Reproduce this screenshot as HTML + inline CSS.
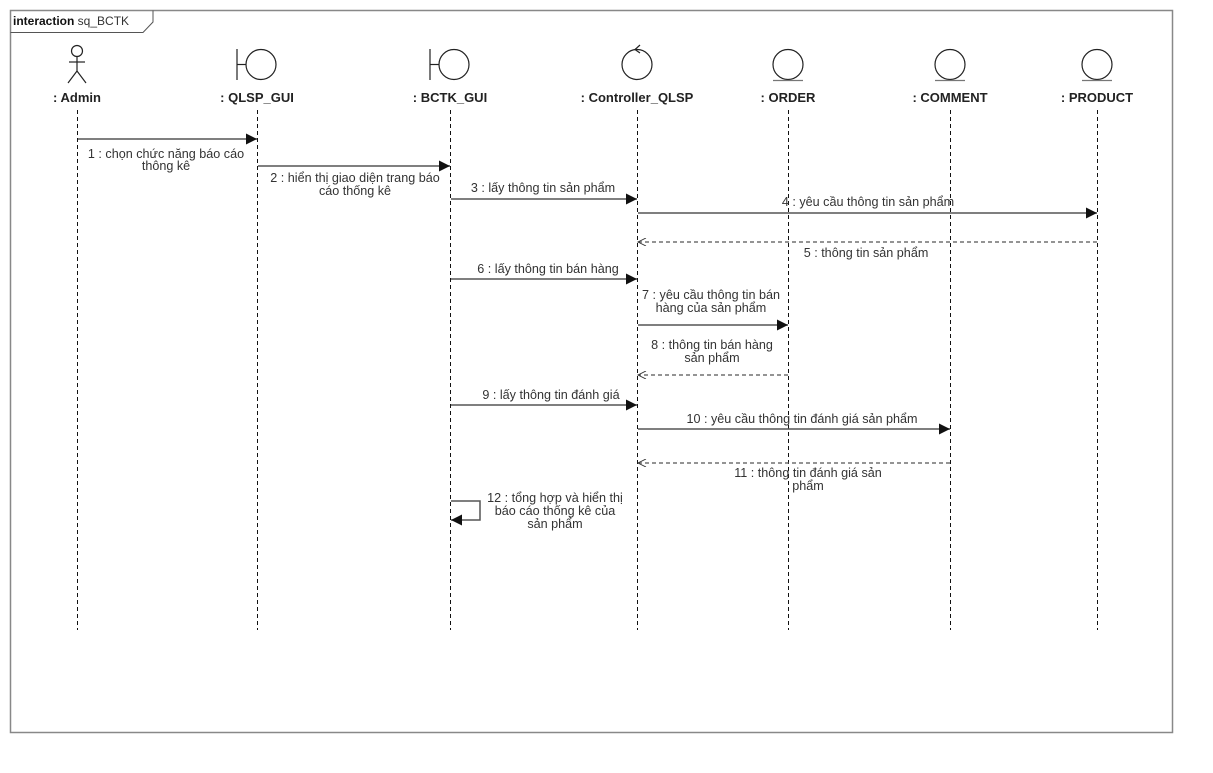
<!DOCTYPE html>
<html><head><meta charset="utf-8"><style>
html,body{margin:0;padding:0;background:#fff;}
svg{display:block;}
text{font-family:"Liberation Sans",sans-serif;font-size:12.6px;fill:#333;}
.h{font-size:13px;font-weight:bold;fill:#222;}
</style></head><body>
<svg width="1213" height="773" viewBox="0 0 1213 773" xmlns="http://www.w3.org/2000/svg">
<defs>
<marker id="f" viewBox="0 0 10 10" refX="10" refY="5" markerWidth="13" markerHeight="11" markerUnits="userSpaceOnUse" orient="auto"><path d="M0,0 L10,5 L0,10 z" fill="#111"/></marker>
<marker id="o" viewBox="0 0 10 10" refX="10" refY="5" markerWidth="10" markerHeight="8" markerUnits="userSpaceOnUse" orient="auto"><path d="M0,0 L10,5 L0,10" fill="none" stroke="#333" stroke-width="1.2"/></marker>
</defs>
<rect x="10.5" y="10.5" width="1162" height="722" fill="none" stroke="#888" stroke-width="1.5"/>
<path d="M10.5,32.5 H143 L153,22 V10.5" fill="none" stroke="#555"/>
<text x="13" y="25" style="font-size:12px"><tspan font-weight="bold" fill="#111">interaction</tspan> sq_BCTK</text>

<g stroke="#222" fill="none" stroke-width="1.2">
<circle cx="77" cy="51" r="5.5"/><line x1="77" y1="56.5" x2="77" y2="71"/><line x1="69" y1="62" x2="85" y2="62"/><line x1="77" y1="71" x2="68" y2="83"/><line x1="77" y1="71" x2="86" y2="83"/>
<line x1="237" y1="49" x2="237" y2="80"/><line x1="237" y1="64.5" x2="246" y2="64.5"/><circle cx="261" cy="64.5" r="15"/>
<line x1="430" y1="49" x2="430" y2="80"/><line x1="430" y1="64.5" x2="439" y2="64.5"/><circle cx="454" cy="64.5" r="15"/>
<circle cx="637" cy="64.5" r="15"/><path d="M640,45 L635,49.5 L640,53"/>
<circle cx="788" cy="64.5" r="15"/><line x1="773" y1="80.5" x2="803" y2="80.5" stroke="#777"/>
<circle cx="950" cy="64.5" r="15"/><line x1="935" y1="80.5" x2="965" y2="80.5" stroke="#777"/>
<circle cx="1097" cy="64.5" r="15"/><line x1="1082" y1="80.5" x2="1112" y2="80.5" stroke="#777"/>
</g>
<g text-anchor="middle" class="h">
<text class="h" x="77" y="102">: Admin</text>
<text class="h" x="257" y="102">: QLSP_GUI</text>
<text class="h" x="450" y="102">: BCTK_GUI</text>
<text class="h" x="637" y="102">: Controller_QLSP</text>
<text class="h" x="788" y="102">: ORDER</text>
<text class="h" x="950" y="102">: COMMENT</text>
<text class="h" x="1097" y="102">: PRODUCT</text>
</g>
<g stroke="#111" stroke-dasharray="4,3" stroke-width="1">
<line x1="77.5" y1="110" x2="77.5" y2="630"/>
<line x1="257.5" y1="110" x2="257.5" y2="630"/>
<line x1="450.5" y1="110" x2="450.5" y2="630"/>
<line x1="637.5" y1="110" x2="637.5" y2="630"/>
<line x1="788.5" y1="110" x2="788.5" y2="630"/>
<line x1="950.5" y1="110" x2="950.5" y2="630"/>
<line x1="1097.5" y1="110" x2="1097.5" y2="630"/>
</g>
<g stroke="#555" stroke-width="1.5" fill="none">
<line x1="78" y1="139" x2="257" y2="139" marker-end="url(#f)"/>
<line x1="258" y1="166" x2="450" y2="166" marker-end="url(#f)"/>
<line x1="451" y1="199" x2="637" y2="199" marker-end="url(#f)"/>
<line x1="638" y1="213" x2="1097" y2="213" marker-end="url(#f)"/>
<line x1="1097" y1="242" x2="638" y2="242" stroke-dasharray="4,3" stroke-width="1.2" marker-end="url(#o)"/>
<line x1="451" y1="279" x2="637" y2="279" marker-end="url(#f)"/>
<line x1="638" y1="325" x2="788" y2="325" marker-end="url(#f)"/>
<line x1="788" y1="375" x2="638" y2="375" stroke-dasharray="4,3" stroke-width="1.2" marker-end="url(#o)"/>
<line x1="451" y1="405" x2="637" y2="405" marker-end="url(#f)"/>
<line x1="638" y1="429" x2="950" y2="429" marker-end="url(#f)"/>
<line x1="950" y1="463" x2="638" y2="463" stroke-dasharray="4,3" stroke-width="1.2" marker-end="url(#o)"/>
<path d="M451,501 H480 V520 H451" marker-end="url(#f)"/>
</g>
<g text-anchor="middle">
<text x="166" y="158">1 : chọn chức năng báo cáo</text><text x="166" y="170">thông kê</text>
<text x="355" y="182">2 : hiển thị giao diện trang báo</text><text x="355" y="195">cáo thống kê</text>
<text x="543" y="192">3 : lấy thông tin sản phẩm</text>
<text x="868" y="206">4 : yêu cầu thông tin sản phẩm</text>
<text x="866" y="257">5 : thông tin sản phẩm</text>
<text x="548" y="273">6 : lấy thông tin bán hàng</text>
<text x="711" y="299">7 : yêu cầu thông tin bán</text><text x="711" y="312">hàng của sản phẩm</text>
<text x="712" y="349">8 : thông tin bán hàng</text><text x="712" y="362">sản phẩm</text>
<text x="551" y="399">9 : lấy thông tin đánh giá</text>
<text x="802" y="423">10 : yêu cầu thông tin đánh giá sản phẩm</text>
<text x="808" y="477">11 : thông tin đánh giá sản</text><text x="808" y="490">phẩm</text>
<text x="555" y="502">12 : tổng hợp và hiển thị</text><text x="555" y="515">báo cáo thống kê của</text><text x="555" y="528">sản phẩm</text>
</g>
</svg>
</body></html>
